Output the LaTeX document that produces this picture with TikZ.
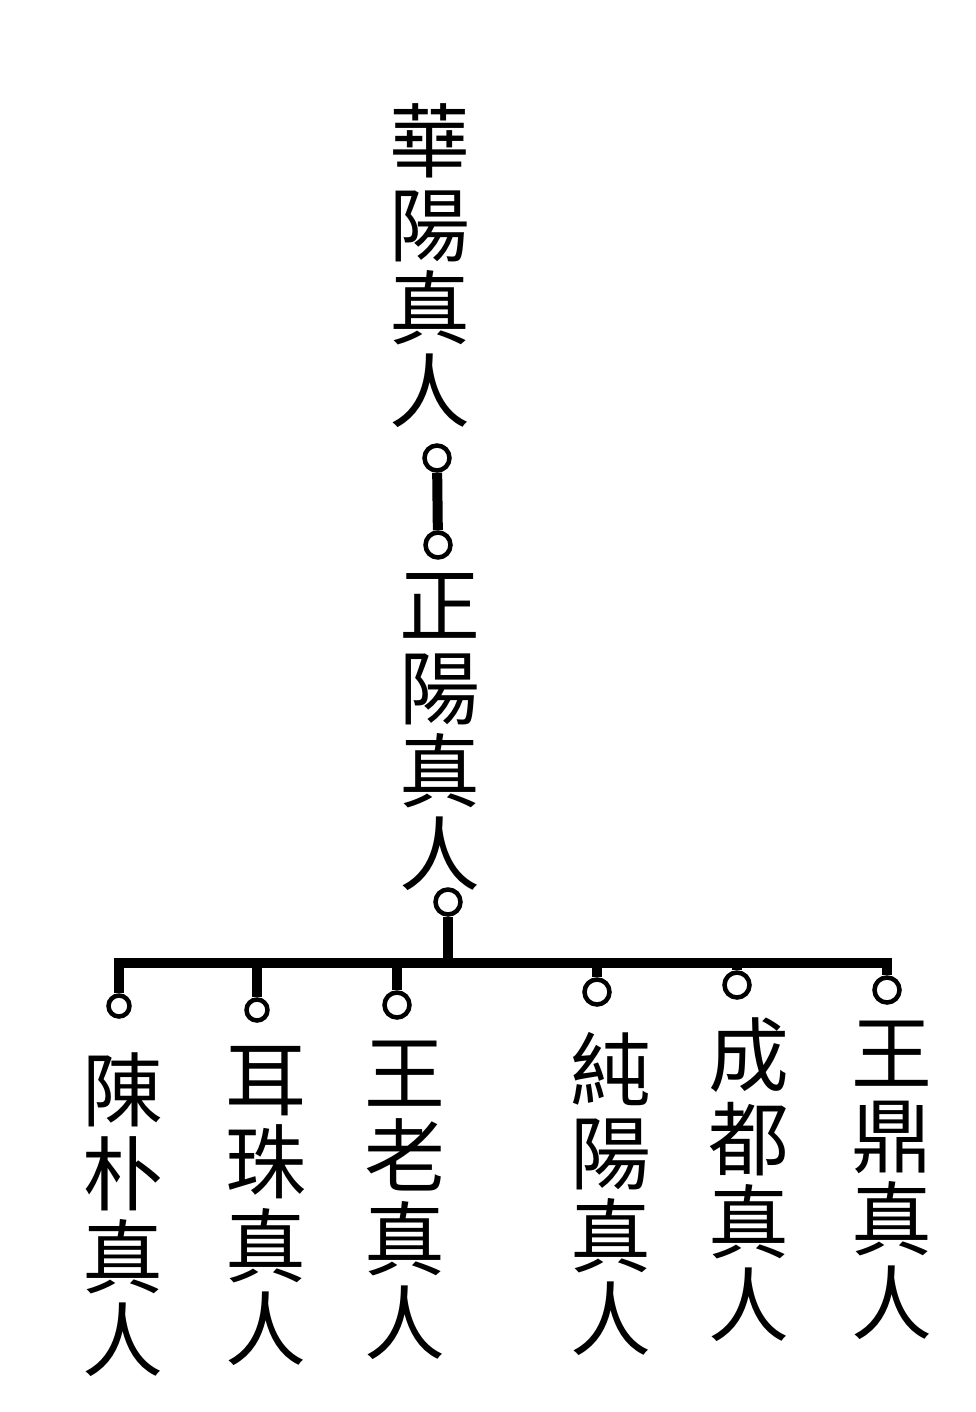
\documentclass[tikz,border=0pt]{standalone}
\usepackage{fontspec}
\usepackage{tikz}
\usetikzlibrary{positioning}
\newfontfamily\cjk{Noto Sans CJK TC}
\tikzset{
  person/.style={inner sep=0pt, align=center, font=\cjk\fontsize{46}{47.4}\selectfont},
  ring/.style={draw, circle, fill=white, line width=0.09cm, inner sep=0pt, minimum size=#1},
  ring/.default=0.5cm,
}
\begin{document}
\begin{tikzpicture}[x=0.02cm, y=-0.02cm,
    stem/.style={line width=0.2cm}
]
  \useasboundingbox (0,0) rectangle (975,1412);

  \node[person] (hua) at (430,266) {華\\陽\\真\\人};
  \node[person] (zheng) at (440,732) {正\\陽\\真\\人};

  \node[person] (chen) at (123,1215) {陳\\朴\\真\\人};
  \node[person] (erzhu) at (266,1206) {耳\\珠\\真\\人};
  \node[person] (wanglao) at (405,1200) {王\\老\\真\\人};
  \node[person] (chunyang) at (611,1194) {純\\陽\\真\\人};
  \node[person] (chengdu) at (749,1180) {成\\都\\真\\人};
  \node[person] (wangding) at (892,1180) {王\\鼎\\真\\人};

  % links
  \coordinate (bar) at (500,963);
  \node[ring] (ringA) at (437,458) {};
  \node[ring] (ringB) at (438,545) {};
  \node[ring] (ringC) at (448,902) {};
  \node[ring=0.42cm] (r1) at (119,1006) {};
  \node[ring=0.42cm] (r2) at (257,1010) {};
  \node[ring] (r3) at (397,1005) {};
  \node[ring] (r4) at (597,992) {};
  \node[ring] (r5) at (737,985) {};
  \node[ring] (r6) at (887,990) {};

  \draw[stem] (ringA) -- (ringB);
  \draw[stem] (ringC) -- (ringC |- bar);
  \draw[stem] (r1) |- (bar) -| (r6);
  \foreach \r in {r2,r3,r4,r5}
    \draw[stem] (\r) -- (\r |- bar);
\end{tikzpicture}
\end{document}
